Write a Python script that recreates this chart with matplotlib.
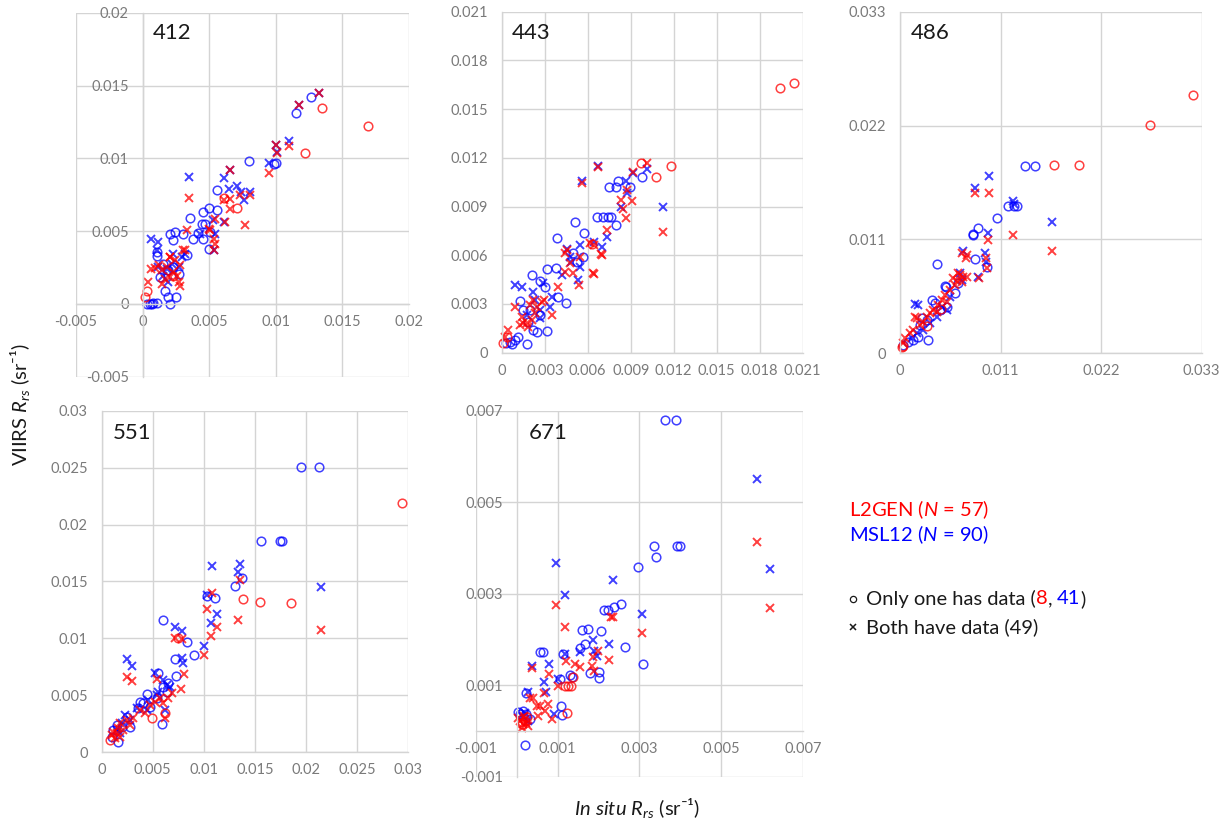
import numpy as np
import matplotlib
matplotlib.use("Agg")
import matplotlib.pyplot as plt
from matplotlib.lines import Line2D
from matplotlib.ticker import FuncFormatter

plt.rcParams['font.family'] = ['Lato', 'DejaVu Sans']
plt.rcParams['mathtext.fontset'] = 'custom'
plt.rcParams['mathtext.rm'] = 'Lato'
plt.rcParams['mathtext.it'] = 'Lato:italic'

# values in units of 1e-3 sr^-1 : (in situ, VIIRS)
# L2GEN only (red o), L2GEN both (red x), MSL12 only (blue o), MSL12 both (blue x)
b412_red_o_x = [16.9, 13.5, 12.2, 0.2, 0.35, 6.1, 7.1, 2.3]
b412_red_o_y = [12.24, 13.45, 10.4, 0.45, 0.9, 7.3, 6.6, 1.9]
b412_red_x_x = [3.45, 3.32, 6.6, 6.1, 6.6, 7.35, 8.1, 7.66, 6.6, 6.22, 5.47, 4.96, 5.09, 5.34,
                5.47, 5.34, 9.5, 10.1, 10.97, 11.77, 13.24, 10.02, 0.6, 0.43, 0.93, 1.26, 1.44,
                1.81, 2.07, 2.32, 2.57, 2.07, 2.7, 1.69, 1.44, 2.82, 3.2, 2.44, 2.82, 3.07, 2.07]
b412_red_x_y = [7.29, 5.06, 9.2, 7.17, 7.24, 7.47, 7.47, 5.4, 6.55, 5.63, 5.86, 5.13, 5.06, 4.48,
                4.14, 3.72, 9.01, 10.39, 10.82, 13.68, 14.48, 10.94, 2.41, 1.49, 2.48, 2.64, 2.3,
                2.53, 3.22, 2.18, 1.89, 1.84, 1.49, 1.72, 1.38, 1.26, 3.68, 2.99, 2.64, 3.68, 3.22]
b412_blue_o_x = [12.64, 11.52, 10.0, 7.98, 5.59, 3.53, 4.53, 4.96, 5.59, 2.07, 2.44, 3.07, 2.32,
                 3.78, 4.13, 4.46, 4.71, 4.53, 4.96, 5.09, 1.11, 1.11, 3.32, 1.56, 1.81, 1.69,
                 1.94, 2.52, 2.07, 0.3, 0.55, 0.8, 1.06, 0.68, 1.94, 2.32, 2.7, 1.31, 9.9]
b412_blue_o_y = [14.19, 13.11, 9.68, 9.84, 7.82, 5.91, 6.32, 6.62, 6.48, 4.83, 4.94, 4.78, 4.37,
                 4.48, 4.87, 5.52, 5.47, 4.48, 3.79, 4.94, 3.56, 3.26, 3.33, 2.76, 2.3, 0.92,
                 0.46, 0.46, 0.0, 0.0, 0.02, 0.05, 0.05, 0.0, 2.3, 2.53, 2.07, 1.84, 9.6]
b412_blue_x_x = [3.45, 0.6, 1.18, 1.06, 6.1, 6.6, 6.47, 7.1, 7.4, 7.6, 8.1, 9.5, 10.1, 5.29, 6.1,
                 5.47, 5.34, 4.33, 2.32, 10.97, 11.77, 13.24, 10.02, 1.81, 2.19, 1.56, 2.7, 2.95,
                 1.94, 1.18, 3.2]
b412_blue_x_y = [8.74, 4.48, 4.25, 3.68, 8.62, 9.2, 7.86, 8.09, 7.7, 7.13, 7.7, 9.7, 10.46, 5.75,
                 5.63, 4.83, 3.68, 4.83, 3.45, 11.21, 13.68, 14.48, 10.94, 2.41, 2.76, 1.95, 2.53,
                 3.22, 1.49, 2.53, 3.45]

b443_red_o_x = [19.42, 20.4, 11.81, 10.74, 9.72, 0.12, 0.35, 6.28]
b443_red_o_y = [16.28, 16.63, 11.52, 10.84, 11.7, 0.62, 0.94, 6.67]
b443_red_x_x = [11.28, 10.12, 9.19, 9.07, 8.33, 8.49, 8.67, 8.72, 6.7, 5.63, 7.33, 6.98, 6.44,
                6.16, 6.44, 6.93, 4.53, 5.47, 4.77, 4.42, 5.0, 5.42, 6.4, 3.95, 3.49, 2.95, 2.16,
                1.98, 0.93, 1.4, 1.74, 0.47, 0.23, 1.51, 2.09, 2.33, 1.28, 1.86, 2.79, 2.44, 4.42]
b443_red_x_y = [7.41, 11.66, 11.15, 9.36, 9.4, 8.83, 8.28, 10.02, 11.46, 10.47, 7.56, 6.02, 4.85,
                6.73, 6.63, 6.08, 6.32, 5.91, 5.5, 4.99, 4.89, 4.17, 4.89, 4.02, 2.32, 3.24, 3.24,
                2.94, 2.83, 2.22, 1.81, 1.4, 0.99, 1.81, 2.01, 2.42, 1.7, 1.6, 3.14, 2.83, 6.12]
b443_blue_o_x = [9.81, 8.95, 8.14, 7.51, 7.95, 6.63, 7.05, 7.44, 7.6, 7.95, 5.12, 3.88, 5.74,
                 5.0, 5.7, 3.19, 3.79, 2.09, 2.67, 3.95, 4.49, 1.28, 3.14, 1.74, 0.58, 0.93, 1.16,
                 0.7, 0.3, 2.21, 1.86, 2.67, 2.44, 1.47, 1.98, 3.02, 5.23]
b443_blue_o_y = [10.84, 10.18, 10.57, 10.18, 10.18, 8.38, 8.38, 8.38, 8.38, 7.86, 8.07, 7.04, 7.39,
                 6.12, 5.87, 5.13, 5.2, 4.78, 4.44, 3.41, 3.04, 3.2, 1.36, 0.53, 0.68, 0.78, 0.99,
                 0.53, 0.57, 1.4, 1.91, 2.32, 1.29, 2.63, 2.63, 4.07, 5.6]
b443_blue_x_x = [11.23, 10.12, 9.19, 8.67, 6.7, 5.63, 8.3, 8.77, 4.53, 4.81, 5.47, 6.44, 6.98,
                 7.37, 5.35, 2.91, 0.93, 1.4, 2.21, 3.37, 2.67, 1.74, 4.77, 5.47, 3.49, 2.33, 2.67,
                 4.19]
b443_blue_x_y = [8.95, 11.29, 11.05, 10.6, 11.52, 10.57, 8.95, 9.82, 6.37, 5.6, 6.63, 6.84, 6.53,
                 7.15, 4.48, 4.27, 4.17, 4.02, 3.76, 2.83, 2.11, 2.32, 5.91, 5.3, 3.45, 3.24, 2.63,
                 4.78]

b486_red_o_x = [32.0, 27.3, 19.6, 16.8, 0.36, 0.18, 4.5, 3.0]
b486_red_o_y = [24.95, 22.05, 18.19, 18.19, 0.71, 0.64, 4.3, 2.6]
b486_red_x_x = [9.74, 8.21, 12.34, 16.68, 9.67, 9.49, 9.38, 8.69, 6.75, 7.23, 7.3, 6.39, 6.93,
                6.75, 6.02, 5.47, 4.93, 4.56, 4.2, 3.65, 3.28, 2.92, 2.55, 2.19, 1.82, 1.46, 1.09,
                0.55, 0.29, 5.1, 4.01, 5.84, 7.3, 1.64, 6.57, 6.2]
b486_red_x_y = [15.52, 15.45, 11.43, 9.92, 10.95, 8.21, 9.18, 7.24, 9.66, 9.18, 9.5, 7.73, 7.41,
                6.92, 6.6, 6.12, 5.64, 5.15, 4.67, 4.19, 3.86, 3.48, 3.06, 2.74, 3.38, 2.25, 1.93,
                1.45, 0.97, 4.99, 4.03, 7.25, 7.41, 3.54, 7.6, 7.0]
b486_blue_o_x = [13.7, 14.8, 11.86, 12.77, 12.5, 10.66, 8.58, 7.96, 8.21, 4.09, 9.49, 4.93, 5.0,
                 3.47, 3.83, 3.1, 1.46, 0.91, 2.0, 2.37, 2.92, 2.19, 4.38, 5.1, 6.02, 6.39, 0.36,
                 8.03]
b486_blue_o_y = [18.1, 18.1, 14.23, 14.23, 14.23, 13.1, 12.07, 11.43, 9.08, 8.6, 8.37, 6.5, 6.38,
                 5.15, 4.9, 1.29, 1.29, 1.13, 1.61, 3.38, 3.22, 2.74, 4.19, 4.5, 5.8, 6.76, 0.8,
                 11.53]
b486_blue_x_x = [9.74, 8.21, 12.34, 16.68, 9.67, 9.31, 6.93, 9.42, 1.64, 2.0, 6.57, 8.58, 4.56,
                 5.1, 4.01, 3.28, 2.55, 1.82, 1.28, 5.47, 6.75, 12.5]
b486_blue_x_y = [17.16, 15.94, 14.71, 12.72, 11.59, 9.66, 9.92, 8.86, 4.77, 4.67, 7.73, 7.41, 4.5,
                 4.19, 3.54, 2.9, 2.25, 1.93, 1.45, 5.48, 7.09, 14.4]

b551_red_o_x = [29.4, 18.57, 15.47, 13.84, 0.81, 4.89, 6.19, 7.49]
b551_red_o_y = [21.86, 13.14, 13.23, 13.46, 1.08, 2.99, 3.42, 10.0]
b551_red_x_x = [10.75, 13.58, 13.36, 21.5, 10.26, 11.24, 10.68, 7.17, 7.82, 10.0, 2.51, 2.93,
                8.08, 7.75, 5.37, 6.84, 6.19, 2.44, 3.09, 3.75, 4.72, 5.7, 6.03, 6.51, 1.79, 1.47,
                1.3, 1.79, 0.98, 2.12, 2.77, 4.23, 5.21, 1.63, 1.14]
b551_red_x_y = [14.02, 15.13, 11.62, 10.74, 12.55, 10.97, 10.21, 10.0, 9.92, 8.55, 6.58, 6.29,
                6.88, 5.53, 6.41, 5.18, 2.99, 2.84, 2.99, 3.72, 4.16, 4.74, 4.3, 4.74, 2.55, 1.67,
                1.23, 1.38, 1.52, 1.96, 2.4, 3.42, 4.45, 2.11, 1.81]
b551_blue_o_x = [19.48, 21.24, 15.57, 17.43, 17.69, 13.09, 13.75, 11.07, 10.26, 6.03, 8.31, 9.06,
                 7.17, 7.23, 5.54, 6.51, 6.03, 4.4, 5.86, 4.07, 1.14, 1.63, 0.98, 3.58, 2.44, 2.77,
                 4.72, 5.37, 6.35, 3.75, 1.95, 1.47]
b551_blue_o_y = [25.08, 25.08, 18.55, 18.55, 18.55, 14.6, 15.28, 13.58, 13.73, 11.62, 9.66, 8.55,
                 8.17, 6.7, 6.99, 6.06, 5.77, 5.12, 2.46, 4.3, 1.96, 0.94, 1.38, 3.86, 3.13, 2.25,
                 4.01, 4.74, 5.33, 4.45, 2.25, 2.4]
b551_blue_x_x = [10.75, 13.52, 13.29, 21.5, 10.33, 11.24, 10.68, 7.17, 7.88, 10.0, 2.51, 2.93,
                 7.88, 7.98, 5.21, 6.68, 6.19, 2.28, 1.95, 3.42, 4.56, 5.54, 6.35, 1.47, 2.77, 4.4,
                 5.37, 1.79, 6.03]
b551_blue_x_y = [16.36, 16.54, 15.86, 14.55, 13.81, 12.15, 11.38, 10.97, 10.68, 9.34, 8.17, 7.58,
                 8.25, 7.81, 6.99, 5.77, 3.72, 3.28, 2.55, 3.86, 4.59, 5.33, 5.91, 1.96, 2.84, 3.72,
                 5.03, 1.67, 6.35]

b671_red_o_x = [1.22, 1.18, 1.26, 1.34, 1.37, 0.12, 0.25, 0.2]
b671_red_o_y = [0.39, 0.99, 0.99, 0.99, 1.18, 0.15, 0.3, 0.22]
b671_red_x_x = [5.88, 6.19, 0.95, 1.17, 2.3, 3.06, 2.25, 1.87, 2.0, 1.55, 1.43, 1.2, 0.79, 0.38,
                1.02, 0.67, 0.77, 0.33, 0.86, 0.49, 1.83, 2.35, 0.08, 0.16, 0.2, 0.12, 0.24, 0.04,
                0.18, 0.29, 0.41, 0.57, 0.69, 0.53, 1.9]
b671_red_x_y = [4.14, 2.69, 2.75, 2.28, 2.5, 2.15, 1.55, 1.62, 1.75, 1.39, 1.46, 1.52, 1.24, 1.37,
                0.99, 0.82, 0.58, 0.73, 0.26, 0.55, 1.42, 2.48, 0.22, 0.15, 0.26, 0.07, 0.18, 0.29,
                0.33, 0.11, 0.73, 0.55, 0.44, 0.33, 1.3]
b671_blue_o_x = [3.63, 3.9, 3.36, 3.41, 3.91, 3.98, 2.97, 2.54, 2.39, 2.14, 2.22, 1.59, 1.75, 2.06,
                 2.65, 3.08, 1.67, 1.55, 0.57, 0.65, 1.14, 1.79, 2.02, 2.02, 1.3, 1.36, 1.06, 0.24,
                 1.08, 1.1, 0.2, 0.04, 0.08, 0.24, 0.33, 0.16]
b671_blue_o_y = [6.8, 6.8, 4.04, 3.81, 4.04, 4.04, 3.59, 2.77, 2.7, 2.65, 2.65, 2.21, 2.23, 2.19,
                 1.84, 1.47, 1.9, 1.81, 1.72, 1.72, 1.68, 1.26, 1.15, 1.29, 1.23, 1.18, 1.13, 0.82,
                 0.55, 0.35, -0.31, 0.42, 0.36, 0.36, 0.26, 0.44]
b671_blue_x_x = [5.88, 6.19, 0.95, 1.17, 2.35, 3.06, 2.25, 1.87, 1.97, 1.55, 1.18, 0.79, 0.38,
                 1.02, 0.67, 0.72, 0.29, 0.91, 0.12, 0.29, 0.2, 1.9]
b671_blue_x_y = [5.51, 3.54, 3.66, 2.97, 3.3, 2.55, 1.9, 1.99, 1.64, 1.72, 1.68, 1.46, 1.42, 1.13,
                 1.08, 0.84, 0.85, 0.38, 0.33, 0.22, 0.4, 1.75]

bands = ['412', '443', '486', '551', '671']
series = {
    '412': (b412_red_o_x, b412_red_o_y, b412_red_x_x, b412_red_x_y,
            b412_blue_o_x, b412_blue_o_y, b412_blue_x_x, b412_blue_x_y),
    '443': (b443_red_o_x, b443_red_o_y, b443_red_x_x, b443_red_x_y,
            b443_blue_o_x, b443_blue_o_y, b443_blue_x_x, b443_blue_x_y),
    '486': (b486_red_o_x, b486_red_o_y, b486_red_x_x, b486_red_x_y,
            b486_blue_o_x, b486_blue_o_y, b486_blue_x_x, b486_blue_x_y),
    '551': (b551_red_o_x, b551_red_o_y, b551_red_x_x, b551_red_x_y,
            b551_blue_o_x, b551_blue_o_y, b551_blue_x_x, b551_blue_x_y),
    '671': (b671_red_o_x, b671_red_o_y, b671_red_x_x, b671_red_x_y,
            b671_blue_o_x, b671_blue_o_y, b671_blue_x_x, b671_blue_x_y),
}

ticks_412 = [-0.005, 0, 0.005, 0.01, 0.015, 0.02]
ticks_443 = [0, 0.003, 0.006, 0.009, 0.012, 0.015, 0.018, 0.021]
ticks_486 = [0, 0.011, 0.022, 0.033]
ticks_551 = [0, 0.005, 0.01, 0.015, 0.02, 0.025, 0.03]
ticks_671 = [-0.001, 0.001, 0.003, 0.005, 0.007]

# axes rectangles (figure fraction), limits, ticks, label position
panels = {
    '412': ([0.0617, 0.5472, 0.2705, 0.4375], (-0.005, 0.02), ticks_412, (0.231, 0.944)),
    '443': ([0.4076, 0.5761, 0.2445, 0.4099], (0, 0.021), ticks_443, (0.033, 0.937)),
    '486': ([0.7311, 0.5754, 0.2451, 0.4106], (0, 0.033), ticks_486, (0.035, 0.937)),
    '551': ([0.0826, 0.0958, 0.2491, 0.4106], (0, 0.03), ticks_551, (0.036, 0.934)),
    '671': ([0.3864, 0.0665, 0.2661, 0.4399], (-0.001, 0.007), ticks_671, (0.161, 0.938)),
}

RED = '#ff0000'
BLUE = '#0000ff'
GRID = '#d4d4d4'
DARK = '#1a1a1a'

fig = plt.figure(figsize=(12.31, 8.32), dpi=100)

fmt = FuncFormatter(lambda v, p: f'{round(v, 5) + 0.0:g}')

for b in bands:
    rect, lim, ticks, lab = panels[b]
    ax = fig.add_axes(rect)
    ro_x, ro_y, rx_x, rx_y, bo_x, bo_y, bx_x, bx_y = series[b]
    k = 1e-3
    ax.plot(np.array(bo_x) * k, np.array(bo_y) * k, 'o', ms=6.2, mfc='none', mec=BLUE,
            mew=1.1, alpha=0.75, clip_on=False)
    ax.plot(np.array(bx_x) * k, np.array(bx_y) * k, 'x', ms=5.5, mec=BLUE,
            mew=1.4, alpha=0.75, clip_on=False)
    ax.plot(np.array(ro_x) * k, np.array(ro_y) * k, 'o', ms=6.2, mfc='none', mec=RED,
            mew=1.1, alpha=0.75, clip_on=False)
    ax.plot(np.array(rx_x) * k, np.array(rx_y) * k, 'x', ms=5.5, mec=RED,
            mew=1.4, alpha=0.75, clip_on=False)
    ax.set_xlim(lim)
    ax.set_ylim(lim)
    ax.set_xticks(ticks)
    ax.set_yticks(ticks)
    ax.xaxis.set_major_formatter(fmt)
    ax.yaxis.set_major_formatter(fmt)
    ax.grid(True, color=GRID, lw=1.0)
    ax.set_axisbelow(True)
    for gl in ax.get_xgridlines() + ax.get_ygridlines():
        gl.set_clip_on(False)
    for s in ['top', 'right']:
        ax.spines[s].set_visible(False)
    for s in ['left', 'bottom']:
        ax.spines[s].set_position(('data', 0))
        ax.spines[s].set_color(GRID)
        ax.spines[s].set_linewidth(1.0)
    ax.tick_params(length=0, labelsize=10.5, labelcolor='#7a7a7a')
    ax.tick_params(axis='y', pad=10)
    ax.tick_params(axis='x', pad=8)
    ax.text(lab[0], lab[1], b, transform=ax.transAxes, fontsize=16, color=DARK,
            ha='left', va='center')

fig.text(20 / 1231, 1 - 405 / 832, 'VIIRS $R_{rs}$ (sr\u207b\u00b9)', rotation=90,
         ha='center', va='center', fontsize=14.5, color=DARK)
fig.text(637 / 1231, 1 - 808 / 832, r'$\mathit{In\ situ}$ $R_{rs}$ (sr' + '\u207b\u00b9)',
         ha='center', va='center', fontsize=14.5, color=DARK)

# legend block
fig.text(849 / 1231, 1 - 510 / 832, r'L2GEN ($N$ = 57)', color=RED, fontsize=14.5,
         ha='left', va='center')
fig.text(849 / 1231, 1 - 535 / 832, r'MSL12 ($N$ = 90)', color=BLUE, fontsize=14.5,
         ha='left', va='center')

renderer = fig.canvas.get_renderer()


def pieces(x_px, y_px, parts):
    x = x_px
    for txt, col in parts:
        t = fig.text(x / 1231, 1 - y_px / 832, txt, color=col, fontsize=14.5,
                     ha='left', va='center')
        x += t.get_window_extent(renderer).width


pieces(866, 599, [('Only one has data (', DARK), ('8', RED), (', ', DARK),
                  ('41', BLUE), (')', DARK)])
pieces(866, 627, [('Both have data (49)', DARK)])
fig.add_artist(Line2D([853 / 1231], [1 - 599 / 832], marker='o', ms=4.5, mfc='none',
                      mec=DARK, mew=0.9, transform=fig.transFigure))
fig.add_artist(Line2D([853 / 1231], [1 - 627 / 832], marker='x', ms=4, mec=DARK,
                      mew=1.1, transform=fig.transFigure))

fig.savefig('out.png', dpi=100)
